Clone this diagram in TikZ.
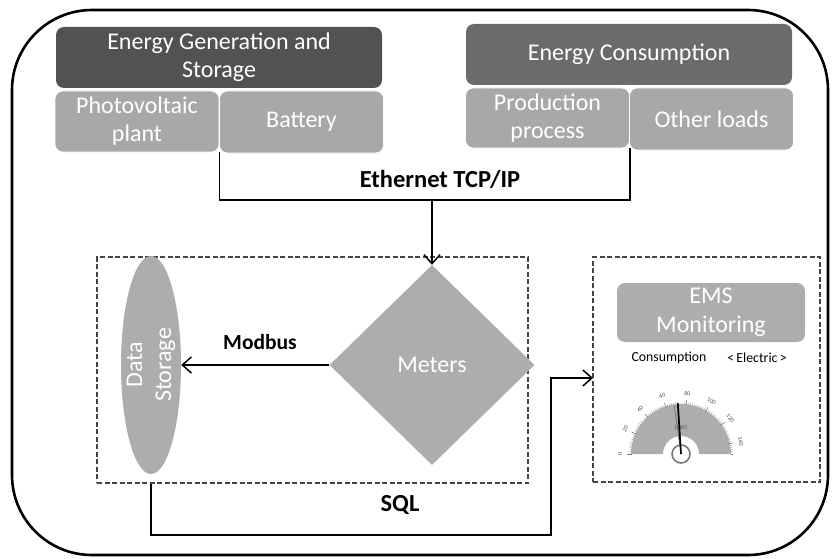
\documentclass[tikz,border=0pt]{standalone}
\usepackage{fontspec}
\setmainfont{Carlito}
\usetikzlibrary{shapes.geometric,arrows.meta,calc}
\definecolor{darkA}{HTML}{525252}
\definecolor{darkB}{HTML}{6B6B6B}
\definecolor{lightbox}{HTML}{A8A8A8}
\definecolor{shapegray}{HTML}{ADADAD}
\definecolor{dashgray}{HTML}{454545}
\begin{document}
\begin{tikzpicture}[x=1pt,y=-1pt,
  hbox/.style={rounded corners=8pt, inner sep=0pt, text=white, align=center,
    font=\fontsize{24}{28}\selectfont},
  subbox/.style={hbox, fill=lightbox, draw=white, line width=0.6pt},
  grpbox/.style={draw=dashgray, line width=1.2pt, dash pattern=on 5pt off 2.5pt, inner sep=0pt},
  conn/.style={line width=1.5pt, black},
  tip/.style={-{Straight Barb[length=9pt,width=16pt,line width=1.5pt]}},
  blabel/.style={font=\fontsize{21.5}{26}\selectfont\bfseries},
  biglabel/.style={font=\fontsize{24.5}{28}\selectfont\bfseries},
  small/.style={font=\fontsize{13.8}{16}\selectfont},
  gauge/.style={font=\fontsize{6}{6.5}\selectfont, text=black!70, inner sep=0pt}
]
\useasboundingbox (0,0) rectangle (832,559);

% outer frame
\draw[line width=2.6pt, rounded corners=80pt] (12,10) rectangle (828,555);

% top groups
\node[hbox, fill=darkA, minimum width=326pt, minimum height=61pt] (gen) at (219,57.5) {Energy Generation and\\Storage};
\node[subbox, minimum width=164pt, minimum height=61pt] (pv) at (137,121.5) {Photovoltaic\\plant};
\node[subbox, minimum width=164pt, minimum height=62pt] (bat) at (301.5,122) {Battery};

\node[hbox, fill=darkB, minimum width=326pt, minimum height=61pt] (cons) at (629,54.5) {Energy Consumption};
\node[subbox, minimum width=164pt, minimum height=60pt] (prod) at (547.5,118) {Production\\process};
\node[subbox, minimum width=164pt, minimum height=62pt] (other) at (711.5,119) {Other loads};

% dashed groups
\node[grpbox, minimum width=431pt, minimum height=226pt] (box1) at (312.5,370) {};
\node[grpbox, minimum width=227pt, minimum height=225pt] (box2) at (706.5,369.5) {};

% data storage
\node[ellipse, fill=shapegray, inner sep=0pt, minimum width=60pt, minimum height=218pt] (ds) at (151,365) {};
\node[rotate=90, text=white, align=center, font=\fontsize{24}{29}\selectfont] (dslabel) at (ds.center) {Data\\Storage};

% meters
\node[diamond, fill=shapegray, inner sep=0pt, aspect=1, minimum width=205pt, minimum height=200pt,
      text=white, font=\fontsize{24}{28}\selectfont] (meters) at (432,365) {Meters};

% Ethernet connector
\coordinate (j) at (432,200);
\draw[conn] (pv.south east) |- (j) -| (prod.south east);
\draw[conn, tip] (j) -- (meters.north);
\node[biglabel] (eth) at (440,179) {Ethernet TCP/IP};

% Modbus
\draw[conn, tip] (meters.west) -- (ds.east);
\node[blabel] (modbus) at (260,342) {Modbus};

% SQL
\coordinate (sqlin) at (593,378);
\draw[conn, tip] (ds.south |- box1.south) -- (151,535) -- (551,535) -- (551,378) -- (sqlin);
\node[biglabel] (sql) at (400,505) {SQL};

% EMS
\node[hbox, fill=shapegray, minimum width=188pt, minimum height=59pt, font=\fontsize{24}{29}\selectfont] (ems) at (711,312.5) {EMS\\Monitoring};
\node[small] (consl) at (669,358) {Consumption};
\node[small] (elec) at (757,358) {<\,Electric\,>};

% gauge
\begin{scope}[shift={(681,454)}, x=1pt, y=1pt]
  \fill[shapegray] (0:50) arc[start angle=0,end angle=180,radius=50] -- (180:18)
     arc[start angle=180,end angle=0,radius=18] -- cycle;
  \foreach \v in {0,2,...,150} \draw[black!45, line width=0.3pt] ({180-1.2*\v}:50) -- ({180-1.2*\v}:52);
  \foreach \v in {0,20,...,140} {
    \draw[black!55, line width=0.5pt] ({180-1.2*\v}:49) -- ({180-1.2*\v}:54);
    \node[gauge, rotate={90-1.2*\v}] at ({180-1.2*\v}:61) {\v};
  }
  \node[gauge] at (0,26) {[kW]};
  \draw[black!55, line width=1.5pt, fill=white] (0,0) circle (9);
  \draw[black!55, line width=0.8pt] (0,1) -- (98:50);
  \draw[black, line width=1.7pt] (0,0) -- (93.6:51);
\end{scope}
\end{tikzpicture}
\end{document}
